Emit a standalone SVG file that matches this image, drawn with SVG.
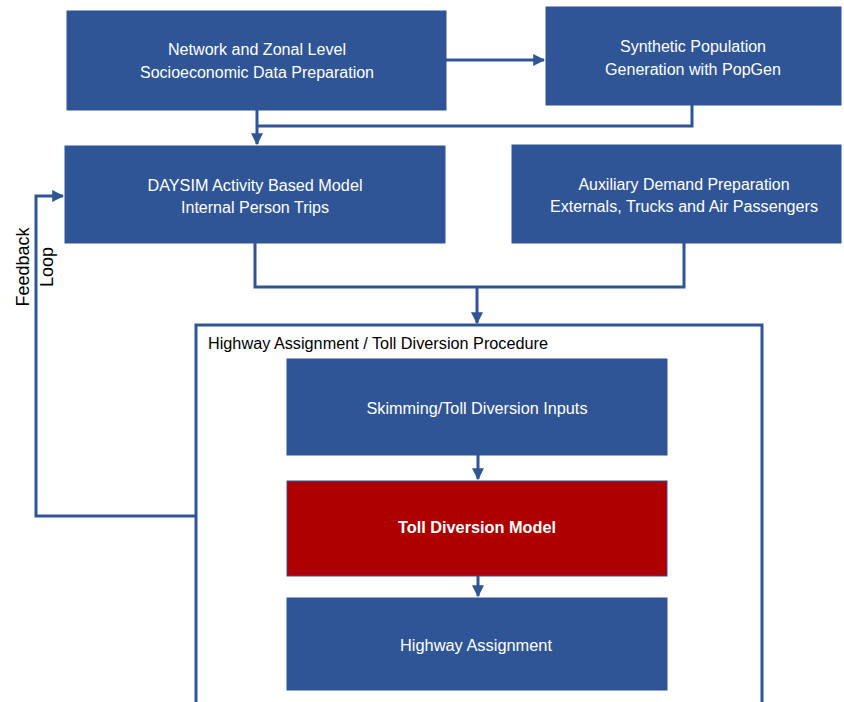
<svg xmlns="http://www.w3.org/2000/svg" width="844" height="702" viewBox="0 0 844 702">
<style>
.box{fill:#2F5597;stroke:#2F5597;stroke-width:1}
.red{fill:#AE0000;stroke:#2F5597;stroke-width:1}
.t{font-family:"Liberation Sans",Arial,sans-serif;font-size:16px;fill:#fff;text-anchor:middle}
.b{font-weight:bold}
.k{font-family:"Liberation Sans",Arial,sans-serif;font-size:16px;fill:#000}
.c{fill:none;stroke:#2F5597;stroke-width:3}
</style>
<defs>
<marker id="ah" viewBox="0 0 10 10" refX="9" refY="5" markerWidth="4" markerHeight="4" orient="auto" markerUnits="strokeWidth">
<path d="M0,0 L10,5 L0,10 z" fill="#2F5597"/>
</marker>
</defs>
<rect width="844" height="702" fill="#fff"/>
<g id="connectors">
<path class="c" d="M446,60 H544" marker-end="url(#ah)"/>
<path class="c" d="M257,110 V144" marker-end="url(#ah)"/>
<path class="c" d="M692,105 V126 H257"/>
<path class="c" d="M255,243 V287 H684 V243"/>
<path class="c" d="M477,287 V323" marker-end="url(#ah)"/>
<path class="c" d="M195,516 H36 V196 H63" marker-end="url(#ah)"/>
<path class="c" d="M478,455 V479" marker-end="url(#ah)"/>
<path class="c" d="M478,576 V596" marker-end="url(#ah)"/>
</g>
<g id="container">
<rect x="196" y="325" width="566" height="390" fill="none" stroke="#2F5597" stroke-width="3"/>
<text class="k" x="208" y="349" textLength="340" lengthAdjust="spacingAndGlyphs">Highway Assignment / Toll Diversion Procedure</text>
</g>
<g id="n1">
<rect class="box" x="67" y="11" width="379" height="99"/>
<text class="t" x="257" y="55" textLength="178" lengthAdjust="spacingAndGlyphs">Network and Zonal Level</text>
<text class="t" x="257" y="78" textLength="234" lengthAdjust="spacingAndGlyphs">Socioeconomic Data Preparation</text>
</g>
<g id="n2">
<rect class="box" x="546" y="7" width="295" height="98"/>
<text class="t" x="693" y="52" textLength="146" lengthAdjust="spacingAndGlyphs">Synthetic Population</text>
<text class="t" x="693" y="75" textLength="176" lengthAdjust="spacingAndGlyphs">Generation with PopGen</text>
</g>
<g id="n3">
<rect class="box" x="65" y="146" width="380" height="97"/>
<text class="t" x="255" y="191" textLength="215" lengthAdjust="spacingAndGlyphs">DAYSIM Activity Based Model</text>
<text class="t" x="255" y="213" textLength="148" lengthAdjust="spacingAndGlyphs">Internal Person Trips</text>
</g>
<g id="n4">
<rect class="box" x="512" y="145" width="329" height="98"/>
<text class="t" x="684" y="190" textLength="211" lengthAdjust="spacingAndGlyphs">Auxiliary Demand Preparation</text>
<text class="t" x="684" y="212" textLength="268" lengthAdjust="spacingAndGlyphs">Externals, Trucks and Air Passengers</text>
</g>
<g id="n5">
<rect class="box" x="287" y="359" width="380" height="96"/>
<text class="t" x="477" y="414" textLength="221" lengthAdjust="spacingAndGlyphs">Skimming/Toll Diversion Inputs</text>
</g>
<g id="n6">
<rect class="red" x="287" y="481" width="380" height="95"/>
<text class="t b" x="477" y="533" textLength="158" lengthAdjust="spacingAndGlyphs">Toll Diversion Model</text>
</g>
<g id="n7">
<rect class="box" x="287" y="598" width="380" height="92"/>
<text class="t" x="476" y="651" textLength="152" lengthAdjust="spacingAndGlyphs">Highway Assignment</text>
</g>
<g id="label">
<text class="k" text-anchor="middle" transform="translate(29,267) rotate(-90)" style="font-size:18px">Feedback</text>
<text class="k" text-anchor="middle" transform="translate(53,267) rotate(-90)" style="font-size:18px">Loop</text>
</g>
</svg>
